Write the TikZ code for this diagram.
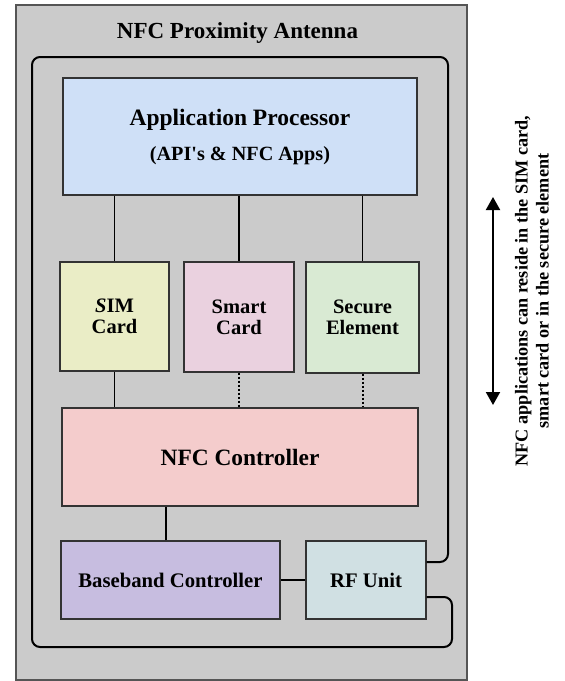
\documentclass[tikz,border=0pt]{standalone}
\usepackage{fontspec}
\setmainfont{Liberation Serif}
\usetikzlibrary{arrows.meta}
\definecolor{bggray}{HTML}{CBCBCB}
\definecolor{frameline}{HTML}{555555}
\definecolor{boxline}{HTML}{333333}
\definecolor{apblue}{HTML}{CFE0F7}
\definecolor{simyel}{HTML}{EAEDC6}
\definecolor{smartpink}{HTML}{EAD1DF}
\definecolor{securegreen}{HTML}{D9EAD3}
\definecolor{nfcpink}{HTML}{F4CCCC}
\definecolor{bblav}{HTML}{C7BDE0}
\definecolor{rfcyan}{HTML}{D0E0E3}
\newcommand{\squote}{\XeTeXglyph\XeTeXglyphindex"quotesingle"\relax}
\begin{document}
\begin{tikzpicture}[x=1pt,y=-1pt,
  blockbox/.style={draw=boxline, line width=1.4pt, inner sep=0pt, align=center},
  smallfont/.style={font=\bfseries\fontsize{20.5}{21}\selectfont},
  conn/.style={draw=black, line width=1.8pt},
  dotconn/.style={draw=black, line width=2pt, dash pattern=on 2pt off 2pt},
  antenna/.style={draw=black, line width=2pt, rounded corners=8pt},
  bigarrow/.style={draw=black, line width=2pt, {Triangle[width=14pt,length=13pt]}-{Triangle[width=14pt,length=13pt]}}
]
\useasboundingbox (0,0) rectangle (565,681);
% outer frame
\draw[fill=bggray, draw=frameline, line width=1.5pt] (16,5) rectangle (467,680);
\node[font=\bfseries\fontsize{23}{27}\selectfont] (title) at (237.5,33) {NFC Proximity Antenna};

% blocks
\node[blockbox, fill=apblue, minimum width=354pt, minimum height=117pt,
      font=\bfseries\fontsize{23.5}{35}\selectfont] (ap) at (240,136.5)
      {Application Processor\\{\fontsize{20.2}{35}\selectfont (API\squote s \& NFC Apps)}};
\node[blockbox, smallfont, fill=simyel, minimum width=109pt, minimum height=109pt] (sim) at (114.5,316.5) {\textit{S}IM\\Card};
\node[blockbox, smallfont, fill=smartpink, minimum width=110pt, minimum height=110pt] (smart) at (239,317) {Smart\\Card};
\node[blockbox, smallfont, fill=securegreen, minimum width=113pt, minimum height=111pt] (secure) at (362.5,317.5) {Secure\\Element};
\node[blockbox, fill=nfcpink, minimum width=356pt, minimum height=98pt,
      font=\bfseries\fontsize{23.4}{28}\selectfont] (nfc) at (240,457) {NFC Controller};
\node[blockbox, fill=bblav, minimum width=219pt, minimum height=78pt,
      font=\bfseries\fontsize{20.7}{24}\selectfont] (bb) at (170.5,580) {Baseband Controller};
\node[blockbox, fill=rfcyan, minimum width=120pt, minimum height=78pt,
      font=\bfseries\fontsize{20.7}{24}\selectfont] (rf) at (366,580) {RF Unit};

% connectors
\draw[conn] (ap.south -| sim.north) -- (sim.north);
\draw[conn] (ap.south -| smart.north) -- (smart.north);
\draw[conn] (ap.south -| secure.north) -- (secure.north);
\draw[conn] (sim.south) -- (sim.south |- nfc.north);
\draw[dotconn] (smart.south) -- (smart.south |- nfc.north);
\draw[dotconn] (secure.south) -- (secure.south |- nfc.north);
\draw[conn] ([xshift=-4.5pt]bb.north) -- ([xshift=-4.5pt]bb.north |- nfc.south);
\draw[conn] (bb.east) -- (rf.west);

% antenna loop
\coordinate (a1) at ([yshift=18pt]rf.east);
\coordinate (a2) at ([yshift=-17pt]rf.east);
\draw[antenna] (a1) -- (448,562) -- (448,57) -- (32,57) -- (32,647) -- (452,647) -- (452,597) -- (a2);

% side arrow and note
\coordinate (arrtop) at (493,197);
\coordinate (arrbot) at (493,405);
\draw[bigarrow] (arrtop) -- (arrbot);
\node[rotate=90, align=center, font=\bfseries\fontsize{18.2}{21}\selectfont] (note) at (532,291)
  {NFC applications can reside in the SIM card,\\smart card or in the secure element};
\end{tikzpicture}
\end{document}
